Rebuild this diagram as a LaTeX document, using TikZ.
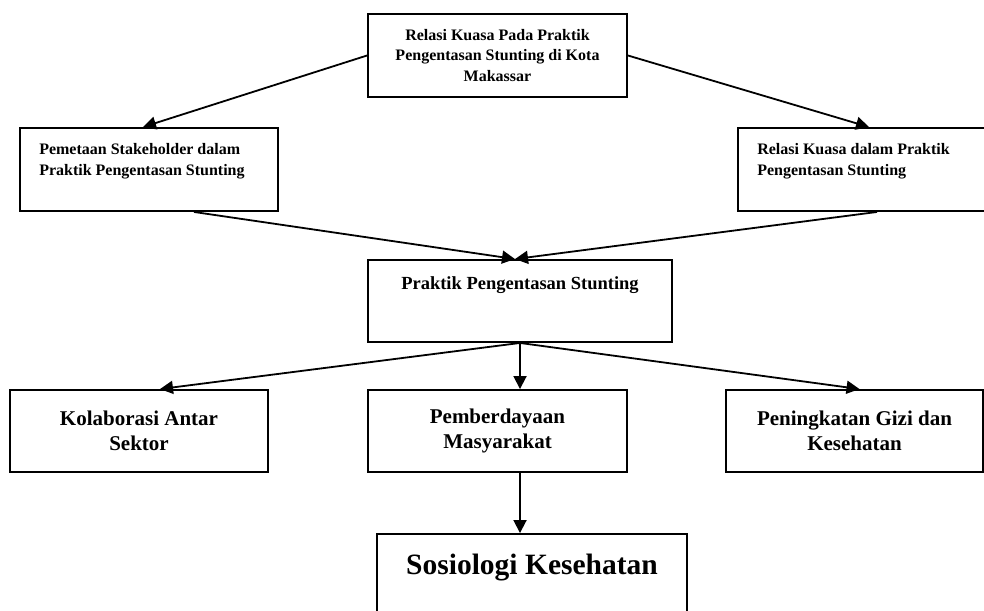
\documentclass[tikz,border=0pt]{standalone}
\usepackage{fontspec}
\setmainfont{Liberation Serif}
\usetikzlibrary{arrows.meta,positioning}
\tikzset{
  kotak/.style={draw,line width=1.9pt,inner sep=0pt},
  teks/.style={inner sep=0pt},
  panah/.style={line width=1.8pt,-{Triangle[length=13pt,width=13pt]}},
  kecil/.style={font=\bfseries\fontsize{16}{21}\selectfont},
  sedang/.style={font=\bfseries\fontsize{21}{25.6}\selectfont},
}
\begin{document}
\begin{tikzpicture}[x=1pt,y=-1pt]
 \useasboundingbox (0,0) rectangle (984,610);
 \clip (0,0) rectangle (984,610);
 % baris atas
 \node[kotak,minimum width=259pt,minimum height=83pt,align=center,font=\bfseries\fontsize{16}{20.5}\selectfont] (relasi) at (497.5,55.5) {Relasi Kuasa Pada Praktik\\Pengentasan Stunting di Kota\\Makassar};
 \node[kotak,minimum width=258pt,minimum height=83pt] (pemetaan) at (149,169.5) {};
 \node[teks,kecil,align=left,anchor=north west] (tpemetaan) at ([shift={(20,16)}]pemetaan.north west) {Pemetaan Stakeholder dalam\\Praktik Pengentasan Stunting};
 \node[kotak,minimum width=262pt,minimum height=83pt] (kuasa) at (869,169.5) {};
 \node[teks,kecil,align=left,anchor=north west] (tkuasa) at ([shift={(20,16)}]kuasa.north west) {Relasi Kuasa dalam Praktik\\Pengentasan Stunting};
 % tengah
 \node[kotak,minimum width=304pt,minimum height=82pt] (praktik) at (520,301) {};
 \node[teks,anchor=north,font=\bfseries\fontsize{18.5}{22}\selectfont] (tpraktik) at ([shift={(0,17)}]praktik.north) {Praktik Pengentasan Stunting};
 % baris bawah
 \node[kotak,sedang,minimum width=258pt,minimum height=82pt,align=center] (kolaborasi) at (139,431) {Kolaborasi Antar\\Sektor};
 \node[kotak,sedang,minimum width=259pt,minimum height=82pt,align=center] (pemberdayaan) at (497.5,431) {Pemberdayaan\\Masyarakat};
 \node[kotak,sedang,minimum width=257pt,minimum height=82pt,align=center] (gizi) at (854.5,431) {Peningkatan Gizi dan\\Kesehatan};
 \node[kotak,minimum width=310pt,minimum height=120pt] (sosiologi) at (532,594) {};
 \node[teks,anchor=north,font=\bfseries\fontsize{29.5}{34}\selectfont] (tsosiologi) at ([shift={(0,21)}]sosiologi.north) {Sosiologi Kesehatan};
 % panah
 \draw[panah] (relasi.west) -- ([xshift=-6pt]pemetaan.north);
 \draw[panah] (relasi.east) -- (kuasa.north);
 \draw[panah] ([xshift=45pt]pemetaan.south) -- ([xshift=-5pt]praktik.north);
 \draw[panah] ([xshift=8pt]kuasa.south) -- ([xshift=-5pt]praktik.north);
 \draw[panah] (praktik.south) -- ([xshift=21pt]kolaborasi.north);
 \draw[panah] (praktik.south) -- (praktik.south |- pemberdayaan.north);
 \draw[panah] (praktik.south) -- ([xshift=5pt]gizi.north);
 \draw[panah] (praktik.south |- pemberdayaan.south) -- (praktik.south |- sosiologi.north);
\end{tikzpicture}
\end{document}
